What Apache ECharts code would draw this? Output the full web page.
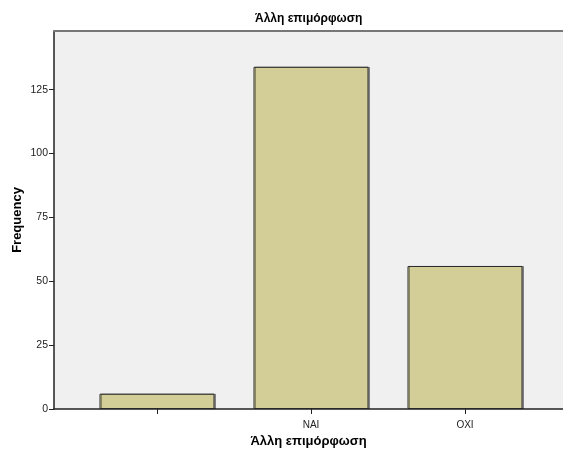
<!DOCTYPE html>
<html>
<head>
<meta charset="utf-8">
<script src="https://cdn.jsdelivr.net/npm/echarts@6/dist/echarts.min.js"></script>
<style>
html,body{margin:0;padding:0;background:#fff;}
#chart{width:563px;height:454px;}
</style>
</head>
<body>
<div id="chart"></div>
<script>
const categories = ['', 'NAI', 'OXI'];
const frequencies = [6, 134, 56];
const yTickValues = [0, 25, 50, 75, 100, 125];
const titleText = 'Άλλη επιμόρφωση';
const xAxisTitle = 'Άλλη επιμόρφωση';
const yAxisTitle = 'Frequency';

const FONT = '"Liberation Sans", Arial, sans-serif';
const chart = echarts.init(document.getElementById('chart'), null, {renderer: 'canvas'});
const yMax = 148;

chart.setOption({
  animation: false,
  backgroundColor: '#ffffff',
  title: {
    text: titleText,
    left: 250, top: 8,
    textStyle: {fontFamily: FONT, fontSize: 12, fontWeight: 'bold', color: '#000'}
  },
  grid: [
    {left: 54, right: 0, top: 31, bottom: 45, show: true, backgroundColor: '#f0f0f0', borderWidth: 0, containLabel: false, outerBoundsMode: 'none'},
    {left: 80, right: 21, top: 31, bottom: 45, containLabel: false, outerBoundsMode: 'none'}
  ],
  xAxis: [
    {
      gridIndex: 0, type: 'value', min: 0, max: 1, position: 'bottom',
      axisLine: {show: true, onZero: false, lineStyle: {color: '#222', width: 1.5}},
      axisTick: {show: false}, axisLabel: {show: false}, splitLine: {show: false},
      name: xAxisTitle, nameLocation: 'middle', nameGap: 26,
      nameTextStyle: {fontFamily: FONT, fontSize: 13, fontWeight: 'bold', color: '#000'}
    },
    {
      gridIndex: 0, type: 'value', min: 0, max: 1, position: 'top',
      axisLine: {show: true, onZero: false, lineStyle: {color: '#777', width: 2}},
      axisTick: {show: false}, axisLabel: {show: false}, splitLine: {show: false}
    },
    {
      gridIndex: 1, type: 'category', data: categories,
      axisLine: {show: false},
      axisTick: {show: true, alignWithLabel: true, interval: 0, length: 5, lineStyle: {color: '#222', width: 1}},
      axisLabel: {interval: 0, fontFamily: FONT, fontSize: 10, color: '#222', margin: 11},
      splitLine: {show: false}
    }
  ],
  yAxis: [
    {
      gridIndex: 0, type: 'value', min: 0, max: yMax,
      axisLine: {show: true, lineStyle: {color: '#222', width: 1.5}},
      axisTick: {show: true, length: 5, customValues: yTickValues, lineStyle: {color: '#222', width: 1}},
      axisLabel: {customValues: yTickValues, fontFamily: FONT, fontSize: 10.5, color: '#222', margin: 6},
      splitLine: {show: false},
      name: yAxisTitle, nameLocation: 'middle', nameGap: 30, nameMoveOverlap: false,
      nameTextStyle: {fontFamily: FONT, fontSize: 13, fontWeight: 'bold', color: '#000'}
    },
    {gridIndex: 1, type: 'value', min: 0, max: yMax, show: false}
  ],
  series: [{
    type: 'bar',
    xAxisIndex: 2, yAxisIndex: 1,
    data: frequencies,
    barWidth: 115,
    itemStyle: {
      color: '#d3ce97',
      borderColor: '#2a2a2a', borderWidth: 1,
      shadowColor: 'rgba(0,0,0,0.35)', shadowOffsetX: 1.5, shadowOffsetY: 0, shadowBlur: 0
    }
  }]
});
</script>
</body>
</html>
